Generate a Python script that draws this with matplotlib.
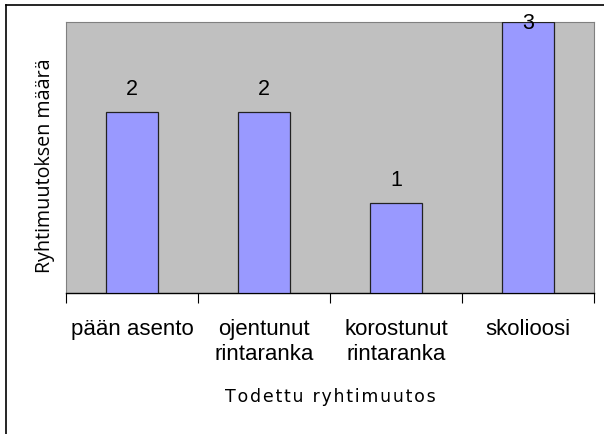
import matplotlib.pyplot as plt
import numpy as np
from matplotlib.lines import Line2D

categories = ["pään asento", "ojentunut\nrintaranka", "korostunut\nrintaranka", "skolioosi"]
counts = [2, 2, 1, 3]

fig = plt.figure(figsize=(6.04, 4.34), dpi=100)
ax = fig.add_axes([66/604, 1-293/434, 528/604, 271/434])

x = np.arange(len(categories))
ax.bar(x, counts, width=0.4, color="#9999FF", edgecolor="#222222", linewidth=0.9, zorder=3)

for xi, v in zip(x, counts):
    y = min(v + 0.25, 2.98)
    ax.text(xi, y, str(v), ha="center", va="center", fontsize=15.5,
            family="Liberation Sans", zorder=4)

ax.set_xlim(-0.5, len(categories) - 0.5)
ax.set_ylim(0, 3)
ax.set_facecolor("#C0C0C0")

# ticks at category boundaries, labels at centres
ax.set_xticks(np.arange(-0.5, len(categories), 1.0))
ax.set_xticklabels([])
ax.set_xticks(x, minor=True)
ax.set_xticklabels(categories, minor=True, fontsize=16, family="Liberation Sans",
                   linespacing=1.2, va="top")
ax.tick_params(axis="x", which="major", length=7, direction="out", color="black")
ax.tick_params(axis="x", which="minor", length=0, pad=19)
ax.set_yticks([])

for s in ["left", "top", "right"]:
    ax.spines[s].set_color("#808080")
    ax.spines[s].set_linewidth(0.8)
ax.spines["bottom"].set_color("black")
ax.spines["bottom"].set_linewidth(1.0)

ax.set_ylabel("Ryhtimuutoksen määrä", fontsize=14.2, family=["Open Sans", "DejaVu Sans"])
ax.yaxis.set_label_coords(-0.02, 0.47)
xlab = "\u200a".join("Todettu ryhtimuutos")
ax.set_xlabel(xlab, fontsize=12.5, family=["DejaVu Sans"], labelpad=17)

# outer chart border (left and top visible)
fig.add_artist(Line2D([6/604, 6/604], [0, 1-5/434], color="black", lw=1.2))
fig.add_artist(Line2D([6/604, 1], [1-5/434, 1-5/434], color="black", lw=1.2))

fig.savefig("out.png", dpi=100)
